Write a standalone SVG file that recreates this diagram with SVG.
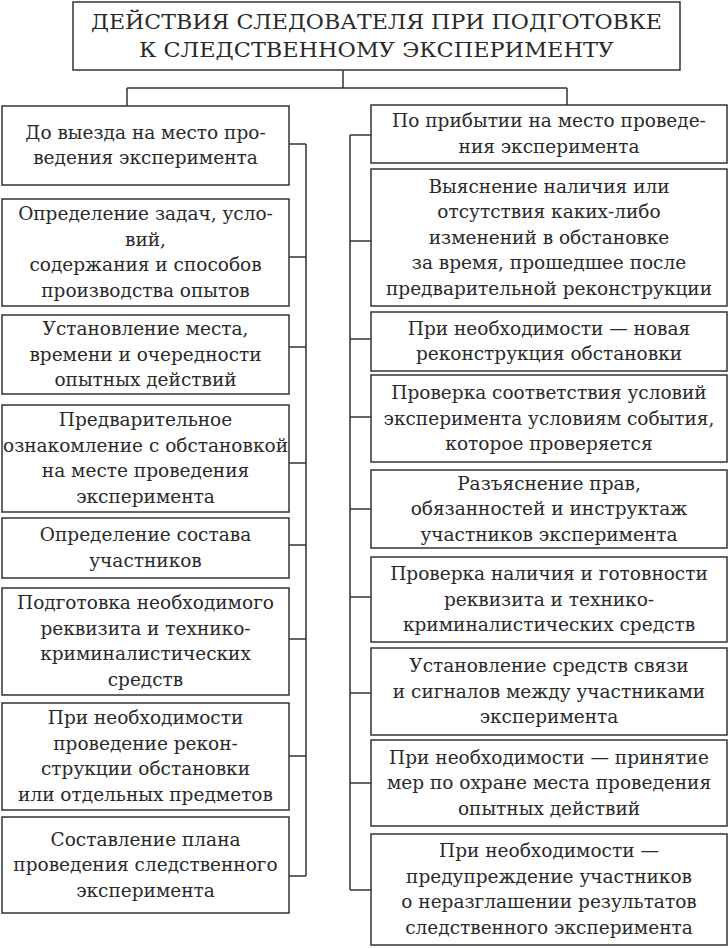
<svg xmlns="http://www.w3.org/2000/svg" width="728" height="948" viewBox="0 0 728 948">
<style>
.box{fill:#fff;stroke:#333;stroke-width:1.5}
.c{fill:none;stroke:#333;stroke-width:1.5}
text{font-family:"DejaVu Serif","Liberation Serif",serif;font-size:18.5px;fill:#2a2a2a;text-anchor:middle}
.t{font-size:21px}
</style>
<rect width="728" height="948" fill="#fff"/>
<g id="connectors">
<path class="c" d="M343 70V88M127 88H567M127 88V106M567 88V105"/>
<path class="c" d="M306 144V876M289 144H306M289 257H306M289 347H306M289 463H306M289 545H306M289 639H306M289 756H306M289 876H306"/>
<path class="c" d="M350 135V890M350 135H371M350 241H371M350 339H371M350 417H371M350 509H371M350 597H371M350 693H371M350 783H371M350 890H371"/>
</g>
<g id="title">
<rect class="box" x="73" y="2" width="607" height="68"/>
<text class="t" x="376.5" y="29" textLength="571" lengthAdjust="spacingAndGlyphs">ДЕЙСТВИЯ СЛЕДОВАТЕЛЯ ПРИ ПОДГОТОВКЕ</text>
<text class="t" x="376.5" y="57" textLength="475" lengthAdjust="spacingAndGlyphs">К СЛЕДСТВЕННОМУ ЭКСПЕРИМЕНТУ</text>
</g>
<g id="L1"><rect class="box" x="2" y="106" width="287" height="79"/>
<text x="145.5" y="138.75">До выезда на место про-</text><text x="145.5" y="164.25">ведения эксперимента</text></g>
<g id="L2"><rect class="box" x="2" y="199" width="287" height="107"/>
<text x="145.5" y="220.25">Определение задач, усло-</text><text x="145.5" y="245.75">вий,</text><text x="145.5" y="271.25">содержания и способов</text><text x="145.5" y="296.75">производства опытов</text></g>
<g id="L3"><rect class="box" x="2" y="315" width="287" height="79"/>
<text x="145.5" y="335">Установление места,</text><text x="145.5" y="360.5">времени и очередности</text><text x="145.5" y="386">опытных действий</text></g>
<g id="L4"><rect class="box" x="2" y="405" width="287" height="107"/>
<text x="145.5" y="426.25">Предварительное</text><text x="145.5" y="451.75">ознакомление с обстановкой</text><text x="145.5" y="477.25">на месте проведения</text><text x="145.5" y="502.75">эксперимента</text></g>
<g id="L5"><rect class="box" x="2" y="518" width="287" height="60"/>
<text x="145.5" y="541.25">Определение состава</text><text x="145.5" y="566.75">участников</text></g>
<g id="L6"><rect class="box" x="2" y="588" width="287" height="107"/>
<text x="145.5" y="609.25">Подготовка необходимого</text><text x="145.5" y="634.75">реквизита и технико-</text><text x="145.5" y="660.25">криминалистических</text><text x="145.5" y="685.75">средств</text></g>
<g id="L7"><rect class="box" x="2" y="703" width="287" height="107"/>
<text x="145.5" y="724.25">При необходимости</text><text x="145.5" y="749.75">проведение рекон-</text><text x="145.5" y="775.25">струкции обстановки</text><text x="145.5" y="800.75">или отдельных предметов</text></g>
<g id="L8"><rect class="box" x="2" y="817" width="287" height="96"/>
<text x="145.5" y="845.5">Составление плана</text><text x="145.5" y="871">проведения следственного</text><text x="145.5" y="896.5">эксперимента</text></g>
<g id="R1"><rect class="box" x="371" y="105" width="356" height="58"/>
<text x="549" y="127.25">По прибытии на место проведе-</text><text x="549" y="152.75">ния эксперимента</text></g>
<g id="R2"><rect class="box" x="371" y="169" width="356" height="137"/>
<text x="549" y="192.5">Выяснение наличия или</text><text x="549" y="218">отсутствия каких-либо</text><text x="549" y="243.5">изменений в обстановке</text><text x="549" y="269">за время, прошедшее после</text><text x="549" y="294.5">предварительной реконструкции</text></g>
<g id="R3"><rect class="box" x="371" y="312" width="356" height="59"/>
<text x="549" y="334.75">При необходимости — новая</text><text x="549" y="360.25">реконструкция обстановки</text></g>
<g id="R4"><rect class="box" x="371" y="375" width="356" height="87"/>
<text x="549" y="399">Проверка соответствия условий</text><text x="549" y="424.5">эксперимента условиям события,</text><text x="549" y="450">которое проверяется</text></g>
<g id="R5"><rect class="box" x="371" y="470" width="356" height="78"/>
<text x="549" y="489.5">Разъяснение прав,</text><text x="549" y="515">обязанностей и инструктаж</text><text x="549" y="540.5">участников эксперимента</text></g>
<g id="R6"><rect class="box" x="371" y="557" width="356" height="85"/>
<text x="549" y="580">Проверка наличия и готовности</text><text x="549" y="605.5">реквизита и технико-</text><text x="549" y="631">криминалистических средств</text></g>
<g id="R7"><rect class="box" x="371" y="648" width="356" height="87"/>
<text x="549" y="672">Установление средств связи</text><text x="549" y="697.5">и сигналов между участниками</text><text x="549" y="723">эксперимента</text></g>
<g id="R8"><rect class="box" x="371" y="740" width="356" height="86"/>
<text x="549" y="763.5">При необходимости — принятие</text><text x="549" y="789">мер по охране места проведения</text><text x="549" y="814.5">опытных действий</text></g>
<g id="R9"><rect class="box" x="371" y="834" width="356" height="111"/>
<text x="549" y="857.25">При необходимости —</text><text x="549" y="882.75">предупреждение участников</text><text x="549" y="908.25">о неразглашении результатов</text><text x="549" y="933.75">следственного эксперимента</text></g>
</svg>
